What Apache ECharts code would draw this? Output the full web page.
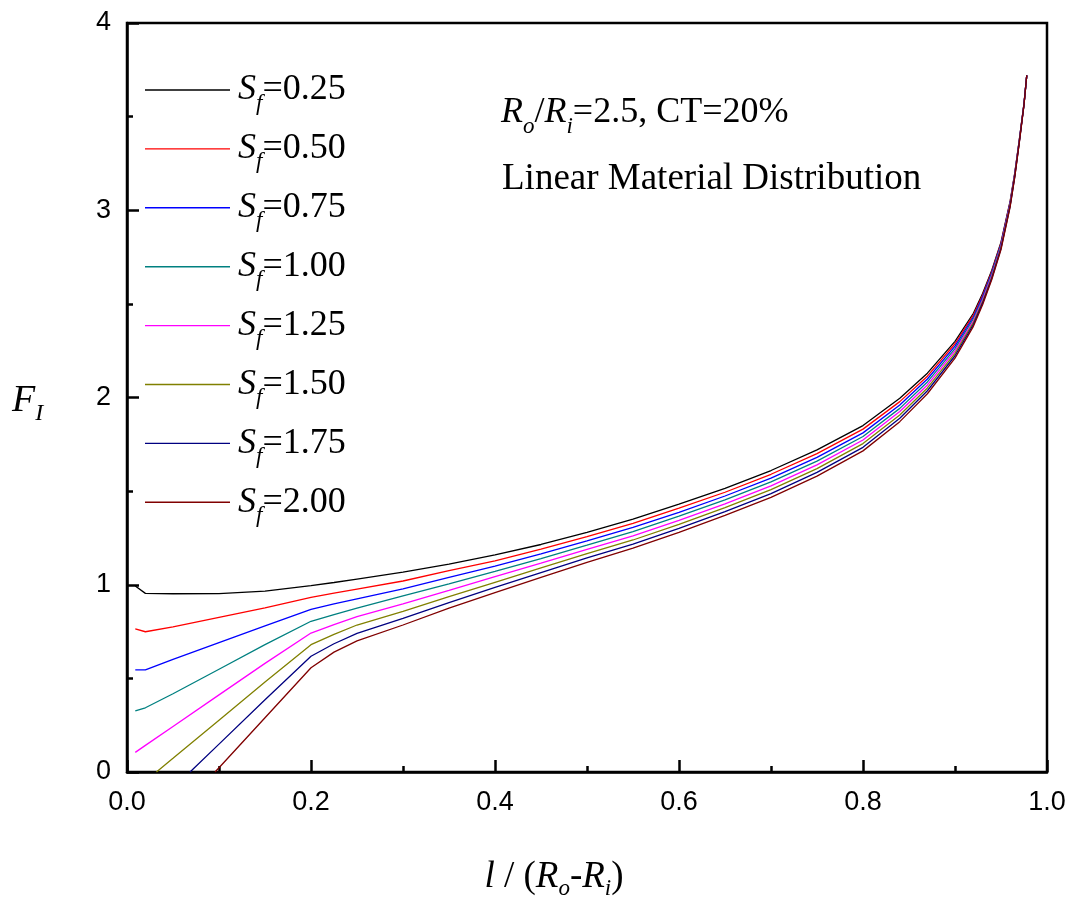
<!DOCTYPE html>
<html>
<head>
<meta charset="utf-8">
<script src="https://cdn.jsdelivr.net/npm/echarts@6/dist/echarts.min.js"></script>
<style>
html,body{margin:0;padding:0;background:#fff;}
#chart{width:1076px;height:907px;}
</style>
</head>
<body>
<div id="chart"></div>
<script>
// ---- data ----
const xs = [0.009, 0.02, 0.05, 0.1, 0.15, 0.2, 0.225, 0.25, 0.3, 0.35, 0.4, 0.45, 0.5, 0.55, 0.6, 0.65, 0.7, 0.75, 0.8, 0.84, 0.87, 0.9, 0.92, 0.93, 0.94, 0.95, 0.96, 0.965, 0.97, 0.975, 0.978];
const sfLabels = ['0.25', '0.50', '0.75', '1.00', '1.25', '1.50', '1.75', '2.00'];
const sf025 = [0.993, 0.954, 0.952, 0.953, 0.966, 0.995, 1.012, 1.03, 1.067, 1.11, 1.16, 1.215, 1.28, 1.35, 1.43, 1.515, 1.61, 1.72, 1.85, 1.996, 2.13, 2.3, 2.45, 2.555, 2.68, 2.83, 3.05, 3.2, 3.38, 3.57, 3.72];
const sf050 = [0.764, 0.749, 0.775, 0.826, 0.876, 0.932, 0.955, 0.977, 1.02, 1.075, 1.128, 1.19, 1.257, 1.328, 1.409, 1.494, 1.59, 1.7, 1.831, 1.978, 2.114, 2.287, 2.44, 2.546, 2.673, 2.824, 3.046, 3.197, 3.378, 3.569, 3.72];
const sf075 = [0.545, 0.545, 0.602, 0.691, 0.78, 0.868, 0.898, 0.925, 0.978, 1.04, 1.1, 1.165, 1.234, 1.306, 1.387, 1.474, 1.569, 1.68, 1.811, 1.96, 2.099, 2.274, 2.43, 2.538, 2.666, 2.819, 3.041, 3.194, 3.376, 3.568, 3.72];
const sf100 = [0.326, 0.343, 0.418, 0.549, 0.68, 0.805, 0.84, 0.875, 0.94, 1.005, 1.071, 1.14, 1.211, 1.284, 1.366, 1.453, 1.549, 1.66, 1.792, 1.942, 2.083, 2.261, 2.42, 2.529, 2.659, 2.813, 3.037, 3.191, 3.374, 3.567, 3.72];
const sf125 = [0.105, 0.142, 0.243, 0.412, 0.58, 0.742, 0.787, 0.83, 0.898, 0.97, 1.043, 1.115, 1.189, 1.261, 1.344, 1.432, 1.528, 1.64, 1.773, 1.925, 2.067, 2.249, 2.41, 2.521, 2.651, 2.807, 3.033, 3.188, 3.371, 3.566, 3.72];
const sf150 = [null, null, 0.073, 0.277, 0.481, 0.68, 0.735, 0.785, 0.858, 0.937, 1.013, 1.09, 1.166, 1.239, 1.323, 1.412, 1.508, 1.62, 1.754, 1.907, 2.051, 2.236, 2.4, 2.512, 2.644, 2.801, 3.029, 3.185, 3.369, 3.565, 3.72];
const sf175 = [null, null, null, 0.149, 0.386, 0.618, 0.685, 0.74, 0.82, 0.905, 0.986, 1.065, 1.143, 1.217, 1.301, 1.391, 1.487, 1.6, 1.734, 1.889, 2.036, 2.223, 2.39, 2.504, 2.637, 2.796, 3.024, 3.181, 3.367, 3.564, 3.72];
const sf200 = [null, null, null, 0.023, 0.29, 0.557, 0.64, 0.70, 0.785, 0.875, 0.958, 1.04, 1.12, 1.195, 1.28, 1.37, 1.467, 1.58, 1.715, 1.871, 2.02, 2.21, 2.38, 2.495, 2.63, 2.79, 3.02, 3.178, 3.365, 3.562, 3.72];
// x where the curves enter the plot at F_I = 0 (null: curve starts at xs[0])
const zeroCrossX = [null, null, null, null, null, 0.032, 0.0685, 0.0957];
const xTicks = [0.0, 0.2, 0.4, 0.6, 0.8, 1.0];
const yTicks = [0, 1, 2, 3, 4];

const seriesValues = [sf025, sf050, sf075, sf100, sf125, sf150, sf175, sf200];
const colors = ['#000000', '#ff0000', '#0000ff', '#008080', '#ff00ff', '#808000', '#000080', '#800000'];

const SERIF = 'Liberation Serif';
const SANS = 'Liberation Sans';

const series = seriesValues.map((vals, i) => {
  const data = [];
  if (zeroCrossX[i] !== null) data.push([zeroCrossX[i], 0]);
  vals.forEach((v, j) => { if (v !== null) data.push([xs[j], v]); });
  return {
    name: 'Sf=' + sfLabels[i],
    type: 'line',
    data: data,
    symbol: 'none',
    smooth: false,
    clip: true,
    lineStyle: { color: colors[i], width: 1.3 },
    itemStyle: { color: colors[i] },
    emphasis: { disabled: true },
    animation: false
  };
});

const chart = echarts.init(document.getElementById('chart'), null, { renderer: 'canvas' });
chart.setOption({
  backgroundColor: '#ffffff',
  animation: false,
  grid: {
    left: 127, right: 29, top: 23, bottom: 135,
    containLabel: false,
    outerBoundsMode: 'none',
    show: true,
    borderColor: '#000',
    borderWidth: 2.5,
    backgroundColor: 'transparent'
  },
  legend: {
    orient: 'vertical',
    left: 145,
    top: 72,
    icon: 'rect',
    itemWidth: 85,
    itemHeight: 1.4,
    itemGap: 15.9,
    padding: 0,
    selectedMode: false,
    data: series.map(s => s.name),
    formatter: function (name) {
      return '{s|S}{f|f}{v|=' + name.split('=')[1] + '}';
    },
    textStyle: {
      color: '#000',
      padding: [0, 0, 0, 3],
      rich: {
        s: { fontFamily: SERIF, fontStyle: 'italic', fontSize: 36, lineHeight: 50, color: '#000' },
        f: { fontFamily: SERIF, fontStyle: 'italic', fontSize: 23, lineHeight: 2, verticalAlign: 'bottom', color: '#000' },
        v: { fontFamily: SERIF, fontSize: 36, lineHeight: 50, color: '#000' }
      }
    }
  },
  xAxis: {
    type: 'value',
    min: 0,
    max: 1,
    interval: 0.2,
    axisLine: { show: true, onZero: false, lineStyle: { color: '#000', width: 2.5 } },
    axisTick: { show: true, inside: true, length: 12, lineStyle: { color: '#000', width: 2.5 } },
    minorTick: { show: true, splitNumber: 2, length: 6, lineStyle: { color: '#000', width: 2.5 } },
    splitLine: { show: false },
    axisLabel: {
      margin: 17,
      color: '#000',
      fontFamily: SANS,
      fontSize: 27,
      formatter: v => xTicks.find(t => Math.abs(t - v) < 1e-9).toFixed(1)
    },
    name: '{i|l}{n| / (}{i|R}{s|o}{n|-}{i|R}{s|i}{n|)}',
    nameLocation: 'middle',
    nameGap: 82,
    nameTextStyle: {
      padding: [0, 66, 0, 0],
      rich: {
        i: { fontFamily: SERIF, fontStyle: 'italic', fontSize: 37, lineHeight: 46, color: '#000' },
        n: { fontFamily: SERIF, fontSize: 37, lineHeight: 46, color: '#000' },
        s: { fontFamily: SERIF, fontStyle: 'italic', fontSize: 23, lineHeight: 2, verticalAlign: 'bottom', color: '#000' }
      }
    }
  },
  yAxis: {
    type: 'value',
    min: 0,
    max: 4,
    interval: 1,
    axisLine: { show: true, onZero: false, lineStyle: { color: '#000', width: 2.5 } },
    axisTick: { show: true, inside: true, length: 12, lineStyle: { color: '#000', width: 2.5 } },
    minorTick: { show: true, splitNumber: 2, length: 6, lineStyle: { color: '#000', width: 2.5 } },
    splitLine: { show: false },
    axisLabel: {
      margin: 16,
      color: '#000',
      fontFamily: SANS,
      fontSize: 27,
      formatter: v => String(yTicks.find(t => Math.abs(t - v) < 1e-9))
    }
  },
  graphic: [
    {
      type: 'text',
      x: 501,
      y: 88,
      silent: true,
      style: {
        text: '{i|R}{s|o}{n|/}{i|R}{s|i}{n|=2.5, CT=20%}',
        fill: '#000',
        verticalAlign: 'top',
        rich: {
          i: { fontFamily: SERIF, fontStyle: 'italic', fontSize: 36, lineHeight: 50, fill: '#000' },
          n: { fontFamily: SERIF, fontSize: 36, lineHeight: 50, fill: '#000' },
          s: { fontFamily: SERIF, fontStyle: 'italic', fontSize: 23, lineHeight: 2, verticalAlign: 'bottom', fill: '#000' }
        }
      }
    },
    {
      type: 'text',
      x: 502,
      y: 159,
      silent: true,
      style: {
        text: '{n|Linear Material Distribution}',
        fill: '#000',
        verticalAlign: 'top',
        rich: {
          n: { fontFamily: SERIF, fontSize: 37, lineHeight: 40, fill: '#000' }
        }
      }
    },
    {
      type: 'text',
      x: 12,
      y: 376,
      silent: true,
      style: {
        text: '{i|F}{s|I}',
        fill: '#000',
        verticalAlign: 'top',
        rich: {
          i: { fontFamily: SERIF, fontStyle: 'italic', fontSize: 38, lineHeight: 50, fill: '#000' },
          s: { fontFamily: SERIF, fontStyle: 'italic', fontSize: 24, lineHeight: 2, verticalAlign: 'bottom', fill: '#000' }
        }
      }
    }
  ],
  series: series
});
</script>
</body>
</html>
